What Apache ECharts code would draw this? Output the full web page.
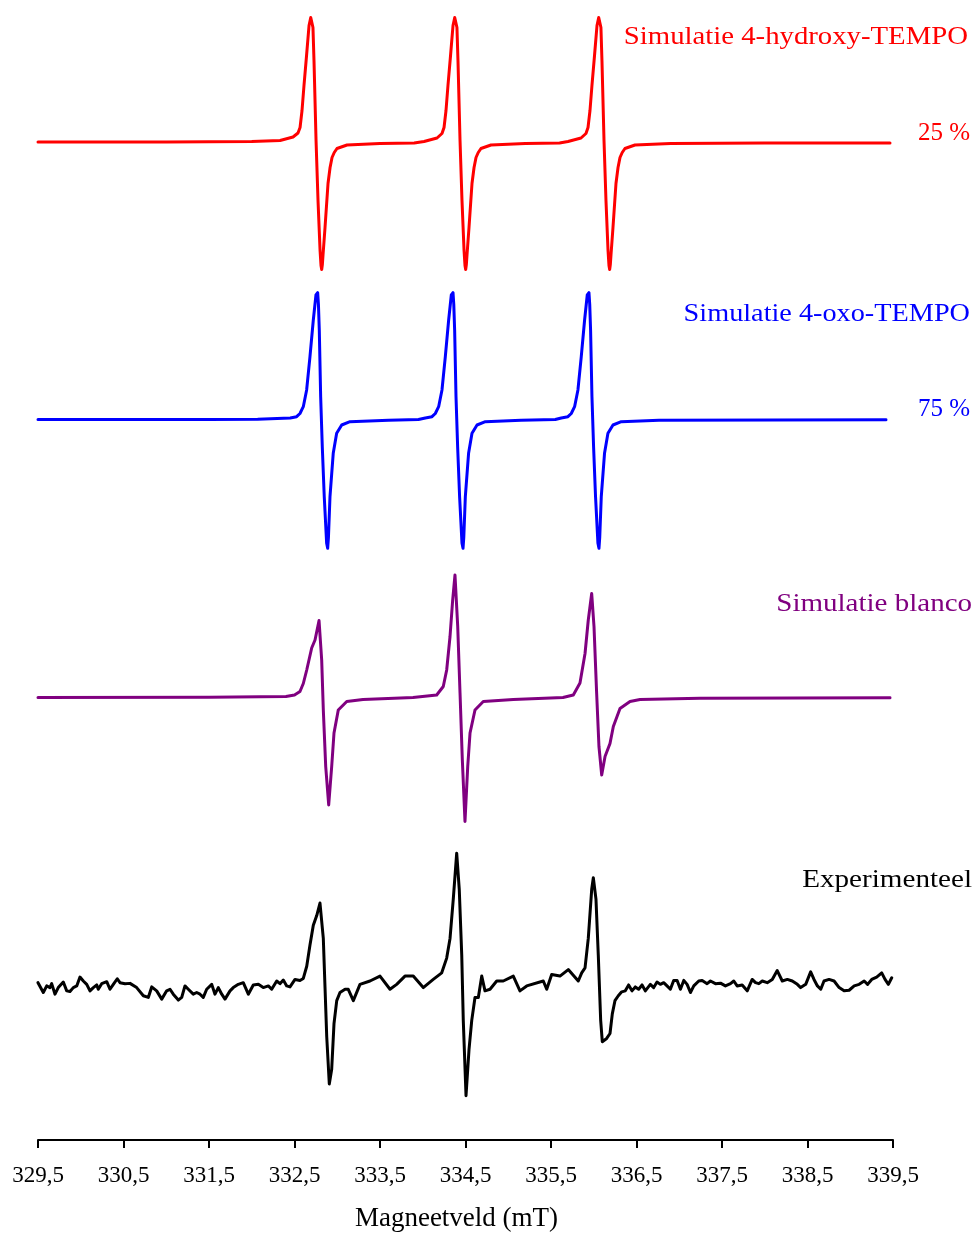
<!DOCTYPE html>
<html><head><meta charset="utf-8">
<script src="https://cdn.jsdelivr.net/npm/echarts@6/dist/echarts.min.js"></script>
<style>html,body{margin:0;padding:0;background:#fff}#c{width:976px;height:1233px}</style>
</head><body><div id="c"></div>
<script>
// Magnetic field (mT) ticks
const xTicks = [329.5,330.5,331.5,332.5,333.5,334.5,335.5,336.5,337.5,338.5,339.5];
const seriesNames = ['Simulatie 4-hydroxy-TEMPO','Simulatie 4-oxo-TEMPO','Simulatie blanco','Experimenteel'];
const fractions = ['25 %','75 %'];

// [field (mT), intensity (a.u.)]
const red = [[329.5,0.5],[331.0,0.5],[332.0,1],[332.331,2],[332.483,5.5],[332.541,9.5],[332.565,15],[332.588,32],[332.611,57],[332.641,87],[332.670,117],[332.690,125],[332.705,127],[332.716,115],[332.728,82],[332.752,2],[332.775,-58],[332.799,-108],[332.810,-123],[332.818,-127],[332.826,-122],[332.834,-112],[332.857,-85],[332.892,-41],[332.916,-25],[332.939,-15],[332.965,-10],[332.997,-6],[333.114,-2.5],[333.500,-1],[333.900,-0.5],
[334.015,1],[334.167,4.5],[334.225,9],[334.249,15],[334.272,32],[334.295,57],[334.325,87],[334.354,117],[334.374,125],[334.389,127],[334.400,115],[334.412,82],[334.436,2],[334.459,-58],[334.483,-108],[334.494,-123],[334.502,-127],[334.510,-122],[334.518,-112],[334.541,-85],[334.576,-41],[334.600,-25],[334.623,-15],[334.649,-10],[334.681,-6],[334.798,-2.5],[335.200,-1],[335.600,-0.5],
[335.699,1],[335.851,4.5],[335.909,9],[335.933,15],[335.956,32],[335.979,57],[336.009,87],[336.038,117],[336.058,125],[336.073,127],[336.084,115],[336.096,82],[336.120,2],[336.143,-58],[336.167,-108],[336.178,-123],[336.186,-127],[336.194,-122],[336.202,-112],[336.225,-85],[336.260,-41],[336.284,-25],[336.307,-15],[336.333,-10],[336.365,-6],[336.482,-2.5],[336.900,-1],[338.0,-0.5],[339.465,-0.5]];

const blue = [[329.5,0],[331.5,0.1],[332.069,0.2],[332.450,1.5],[332.525,2.8],[332.564,6],[332.603,12.8],[332.642,29.5],[332.681,62.8],[332.720,99.5],[332.751,124.5],[332.771,126.8],[332.780,115],[332.790,89.5],[332.806,22.8],[332.825,-27.2],[332.848,-77.2],[332.876,-123.8],[332.888,-128.8],[332.897,-118],[332.915,-77.2],[332.953,-33.8],[332.993,-13.8],[333.052,-5.5],[333.149,-2.2],[333.600,-0.8],[333.950,0],
[334.030,1.5],[334.108,2.8],[334.147,6],[334.186,12.8],[334.225,29.5],[334.264,62.8],[334.303,99.5],[334.334,124.5],[334.354,126.8],[334.363,115],[334.373,89.5],[334.389,22.8],[334.408,-27.2],[334.431,-77.2],[334.459,-123.8],[334.471,-128.8],[334.480,-118],[334.498,-77.2],[334.536,-33.8],[334.576,-13.8],[334.635,-5.5],[334.732,-2.2],[335.150,-0.8],[335.550,0],
[335.620,1.5],[335.698,2.8],[335.737,6],[335.776,12.8],[335.815,29.5],[335.854,62.8],[335.893,99.5],[335.924,124.5],[335.944,126.8],[335.953,115],[335.963,89.5],[335.979,22.8],[335.998,-27.2],[336.021,-77.2],[336.049,-123.8],[336.061,-128.8],[336.070,-118],[336.088,-77.2],[336.126,-33.8],[336.166,-13.8],[336.225,-5.5],[336.322,-2.2],[336.763,-0.8],[339.418,-0.3]];

const purple = [[329.5,0],[331.5,0.2],[332.400,1],[332.500,2.5],[332.564,6],[332.603,14],[332.643,27.5],[332.701,49.5],[332.740,57.5],[332.787,77],[332.818,37.5],[332.837,-12.5],[332.865,-69],[332.900,-107.5],[332.935,-69],[332.962,-35.5],[333.012,-12.5],[333.111,-4],[333.301,-2],[333.886,0],
[334.163,2.5],[334.240,11],[334.280,27.5],[334.319,61],[334.350,97.5],[334.377,122.5],[334.409,71],[334.436,4.5],[334.463,-62.5],[334.494,-124],[334.526,-69],[334.553,-35.5],[334.611,-12.5],[334.708,-4],[335.059,-2],[335.640,0],
[335.761,2.5],[335.839,14.5],[335.898,44],[335.936,77.5],[335.976,104],[336.003,71],[336.034,4],[336.061,-49],[336.093,-77.5],[336.132,-59],[336.190,-46],[336.229,-29],[336.307,-11],[336.424,-4],[336.541,-2],[337.243,-0.8],[339.465,-0.3]];

const black = [[329.5,2],[329.523,3.7],[329.562,-8],[329.602,-1.3],[329.640,-3],[329.660,1],[329.699,-9.7],[329.737,-3],[329.796,2.7],[329.836,-6.3],[329.874,-7],[329.913,-3],[329.953,-1.3],[329.991,7.7],[330.030,3.7],[330.070,0.3],[330.108,-6.3],[330.147,-3],[330.187,-0.3],[330.205,-4.7],[330.245,1],[330.304,3],[330.342,-4.7],[330.381,0.3],[330.427,6],[330.459,2],[330.518,1],[330.576,1.3],[330.654,-3],[330.732,-11.3],[330.790,-13],[330.830,-2.3],[330.888,-6.3],[330.947,-14.7],[331.005,-6.3],[331.044,-4.7],[331.082,-9.7],[331.141,-15.7],[331.181,-13],[331.219,-1.3],[331.258,-4.7],[331.316,-9.7],[331.356,-8],[331.395,-9.7],[331.433,-13],[331.473,-4.7],[331.532,0.3],[331.570,-9.7],[331.609,-3],[331.649,-9.7],[331.687,-14.7],[331.746,-6.3],[331.784,-3],[331.843,0.3],[331.901,2],[331.960,-9.7],[332.018,-0.3],[332.077,0.3],[332.135,-3],[332.194,-1.3],[332.233,-4.7],[332.292,3.7],[332.330,1],[332.369,4.7],[332.409,-1.3],[332.447,-2.3],[332.506,5.3],[332.564,4.3],[332.603,6.3],[332.643,18.7],[332.681,40.3],[332.720,60.3],[332.760,70.3],[332.798,83],[332.837,47],[332.857,-3],[332.877,-53],[332.907,-101],[332.935,-86],[332.962,-39.7],[332.994,-16.3],[333.032,-8],[333.091,-4.7],[333.129,-4.7],[333.188,-16.3],[333.266,0.3],[333.383,3.7],[333.500,8.7],[333.617,-4.7],[333.695,0.3],[333.792,8.7],[333.889,8.7],[334.006,-3],[334.123,5.3],[334.222,12],[334.280,27],[334.319,47],[334.357,87],[334.397,133.7],[334.427,97],[334.456,30.3],[334.474,-36.3],[334.506,-113],[334.541,-66],[334.573,-36.3],[334.611,-13],[334.650,-13],[334.690,8.7],[334.728,-6.3],[334.787,-4.7],[334.865,3.7],[334.942,3.7],[335.059,8.7],[335.137,-6.3],[335.216,-1.3],[335.410,3.7],[335.450,-4.7],[335.508,10.3],[335.605,8.7],[335.702,15.3],[335.819,3.7],[335.859,12],[335.898,17],[335.936,47],[335.976,97],[335.995,108.7],[336.026,87],[336.053,30.3],[336.081,-36.3],[336.100,-58],[336.151,-54.7],[336.190,-49.7],[336.217,-29.7],[336.248,-16.3],[336.287,-11.3],[336.327,-7.3],[336.369,-6.3],[336.408,-0.3],[336.447,-6.3],[336.486,-2.3],[336.525,-4.7],[336.565,-0.3],[336.603,-6.3],[336.662,0.3],[336.701,-3],[336.740,2.7],[336.779,0.3],[336.818,2],[336.857,-1.3],[336.896,-4.7],[336.935,4.3],[336.975,4.3],[337.014,-4.7],[337.053,4.3],[337.092,0.3],[337.131,-8],[337.170,-1.3],[337.228,3.7],[337.268,4.3],[337.326,1],[337.365,3.7],[337.423,1],[337.482,1.5],[337.540,-1.3],[337.599,1],[337.638,3.7],[337.677,-1.3],[337.736,-0.3],[337.795,-6.3],[337.853,5.3],[337.892,2],[337.931,1],[337.971,3.7],[338.029,2],[338.088,5.3],[338.146,14.3],[338.205,3.7],[338.264,5.3],[338.322,3.7],[338.381,0.3],[338.420,-3],[338.479,0.3],[338.537,13],[338.576,5.3],[338.616,-1.3],[338.655,-4.7],[338.693,3.7],[338.752,5.3],[338.811,3.7],[338.870,-3],[338.928,-6.3],[338.987,-5.7],[339.046,-1.3],[339.104,0.3],[339.163,3.7],[339.203,0.3],[339.251,5.3],[339.309,7.7],[339.368,12],[339.407,5.3],[339.446,0.3],[339.485,7]];

const colors = ['#ff0000','#0000ff','#800080','#000000'];
const FONT = '"Liberation Serif", "DejaVu Serif", serif';

const chart = echarts.init(document.getElementById('c'), null, {renderer:'canvas'});
const gridTops = [7.5, 284.5, 562.5, 847];
const gridHeights = [270, 270, 270, 298];
const yRanges = [[-135,135],[-135,135],[-135,135],[-158,140]];
const grids = gridTops.map((t,i)=>({left:38, width:855, top:t, height:gridHeights[i]}));
const xAxes = gridTops.map((t,i)=>{
  const last = i===3;
  return {
    type:'value', gridIndex:i, min:xTicks[0], max:xTicks[xTicks.length-1], interval:1,
    show:last,
    axisLine:{show:last, onZero:false, lineStyle:{color:'#000', width:2}},
    axisTick:{show:last, inside:false, length:8, lineStyle:{color:'#000', width:2}},
    axisLabel:{show:last, margin:24, color:'#000', fontFamily:FONT, fontSize:23,
      formatter:v=>v.toFixed(1).replace('.',',')},
    splitLine:{show:false},
    name:last?'Magneetveld (mT)':'', nameLocation:'middle', nameGap:65,
    nameTextStyle:{color:'#000', fontFamily:FONT, fontSize:27, padding:[0,18,0,0]}
  };
});
const yAxes = yRanges.map((r,i)=>({type:'value', gridIndex:i, min:r[0], max:r[1], show:false}));
const datas = [red, blue, purple, black];
const series = datas.map((d,i)=>({
  type:'line', name:seriesNames[i], xAxisIndex:i, yAxisIndex:i, data:d,
  showSymbol:false, symbol:'none', clip:false,
  lineStyle:{color:colors[i], width:3, join:'round', cap:'round'}, itemStyle:{color:colors[i]}
}));
const labelSpecs = [
  {t:seriesNames[0], x:968, y:37, c:colors[0], s:1.15},
  {t:fractions[0], x:970, y:133, c:colors[0], s:1},
  {t:seriesNames[1], x:970, y:314, c:colors[1], s:1.13},
  {t:fractions[1], x:970, y:409, c:colors[1], s:1},
  {t:seriesNames[2], x:972, y:604, c:colors[2], s:1.16},
  {t:seriesNames[3], x:972, y:880, c:colors[3], s:1.165}
];
const graphic = labelSpecs.map(s=>({type:'text', x:s.x, y:s.y, scaleX:s.s,
  style:{text:s.t, fill:s.c, font:'25px '+FONT, textAlign:'right', textVerticalAlign:'middle'}}));
chart.setOption({animation:false, backgroundColor:'#fff', grid:grids, xAxis:xAxes, yAxis:yAxes, series, graphic});
</script></body></html>
